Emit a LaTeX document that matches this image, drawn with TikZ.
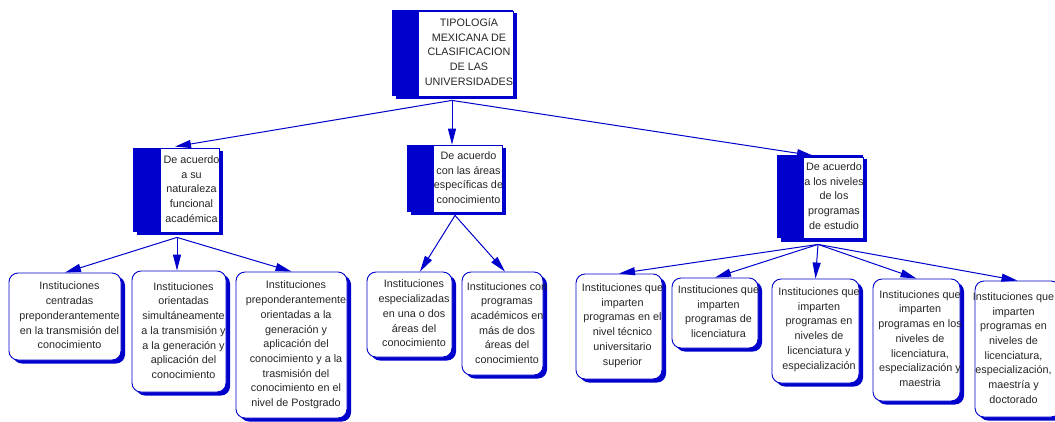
\documentclass[tikz,border=0pt]{standalone}
\usepackage{fontspec}
\setmainfont{Liberation Sans}
\usetikzlibrary{arrows.meta,shadows,calc}
\definecolor{cblue}{RGB}{0,0,204}
\begin{document}
\begin{tikzpicture}[x=1pt,y=-1pt,
  txt/.style={inner sep=0pt, align=center, font=\fontsize{10.8}{14.7}\selectfont, text=black!85},
  leaf/.style={draw=cblue, fill=white, line width=0.9pt, rounded corners=9pt, inner sep=0pt,
    drop shadow={shadow xshift=4pt, shadow yshift=-3.5pt, fill=cblue, opacity=1}},
  wbox/.style={draw=cblue, fill=white, line width=0.8pt, inner sep=0pt},
  blk/.style={fill=cblue},
  conn/.style={draw=cblue, line width=1pt, -{Triangle[length=16pt,width=8pt]}}
]
\useasboundingbox (0,0) rectangle (1055,421);

% ---- top box
\fill[blk] (392,10) rectangle (513,96);
\fill[blk] (396,13) rectangle (517,99);
\node[wbox, minimum width=95, minimum height=85] (T) at (465.5,53.5) {};
\node[txt] (Tt) at ($(T)+(3.5,-1.5)$) {TIPOLOGíA\\MEXICANA DE\\CLASIFICACION\\DE LAS\\UNIVERSIDADES};

% ---- level 2 boxes
\fill[blk] (133,148) rectangle (219,232);
\fill[blk] (137,151) rectangle (223,235);
\node[wbox, minimum width=59, minimum height=84] (A) at (189.5,190) {};
\node[txt] (At) at ($(A)+(2,-1)$) {De acuerdo\\a su\\naturaleza\\funcional\\académica};

\fill[blk] (407,145) rectangle (502,212);
\fill[blk] (411,148) rectangle (506,215);
\node[wbox, minimum width=69, minimum height=67] (B) at (467.5,178.5) {};
\node[txt] (Bt) at ($(B)+(1,-1)$) {De acuerdo\\con las áreas\\específicas de\\conocimiento};

\fill[blk] (777,155) rectangle (863,238);
\fill[blk] (781,159) rectangle (867,242);
\node[wbox, minimum width=60, minimum height=81] (C) at (833,197.5) {};
\node[txt] (Ct) at ($(C)+(1,-1.5)$) {De acuerdo\\a los niveles\\de los\\programas\\de estudio};

% ---- leaves
\node[leaf, minimum width=112, minimum height=87] (l1) at (65,316.5) {};
\node[txt] (l1t) at ($(l1)+(4.5,-1)$) {Instituciones\\centradas\\preponderantemente\\en la transmisión del\\conocimiento};

\node[leaf, minimum width=94, minimum height=121] (l2) at (179,331.5) {};
\node[txt] (l2t) at ($(l2)+(4.5,-1)$) {Instituciones\\orientadas\\simultáneamente\\a la transmisión y\\a la generación y\\aplicación del\\conocimiento};

\node[leaf, minimum width=111, minimum height=146] (l3) at (291.5,345) {};
\node[txt] (l3t) at ($(l3)+(4.5,0)$) {Instituciones\\preponderantemente\\orientadas a la\\generación y\\aplicación del\\conocimiento y a la\\trasmisión del\\conocimiento en el\\nivel de Postgrado};

\node[leaf, minimum width=85, minimum height=85] (l4) at (409.5,314.5) {};
\node[txt] (l4t) at ($(l4)+(4.5,-1)$) {Instituciones\\especializadas\\en una o dos\\áreas del\\conocimiento};

\node[leaf, minimum width=81, minimum height=103] (l5) at (502.5,323.5) {};
\node[txt] (l5t) at ($(l5)+(4.5,-0.5)$) {Instituciones con\\programas\\académicos en\\más de dos\\áreas del\\conocimiento};

\node[leaf, minimum width=86, minimum height=105] (l6) at (619,326.5) {};
\node[txt] (l6t) at ($(l6)+(3.5,-1)$) {Instituciones que\\imparten\\programas en el\\nivel técnico\\universitario\\superior};

\node[leaf, minimum width=86, minimum height=70] (l7) at (715,313) {};
\node[txt] (l7t) at ($(l7)+(3.5,-1.5)$) {Instituciones que\\imparten\\programas de\\licenciatura};

\node[leaf, minimum width=87, minimum height=104] (l8) at (815.5,331) {};
\node[txt] (l8t) at ($(l8)+(3.5,-1.5)$) {Instituciones que\\imparten\\programas en\\niveles de\\licenciatura y\\especialización};

\node[leaf, minimum width=87, minimum height=122] (l9) at (916.5,340) {};
\node[txt] (l9t) at ($(l9)+(3.5,-1.5)$) {Instituciones que\\imparten\\programas en los\\niveles de\\licenciatura,\\especialización y\\maestria};

\node[leaf, minimum width=85, minimum height=136] (l10) at (1017.5,349) {};
\node[txt] (l10t) at ($(l10)+(-4,-1)$) {Instituciones que\\imparten\\programas en\\niveles de\\licenciatura,\\especialización,\\maestría y\\doctorado};

% ---- connectors
\draw[conn] ($(T.south)+(-13.5,4)$) -- ($(A.north)+(-14.5,-1)$);
\draw[conn] ($(T.south)+(-13.5,4)$) -- ($(B.north)+(-15.5,0)$);
\draw[conn] ($(T.south)+(-13.5,4)$) -- ($(C.north)+(-20,-1)$);

\draw[conn] ($(A.south)+(-12.5,5)$) -- (l1.north);
\draw[conn] ($(A.south)+(-12.5,5)$) -- ($(l2.north)+(-2,0)$);
\draw[conn] ($(A.south)+(-12.5,5)$) -- (l3.north);

\draw[conn] ($(B.south)+(-12.5,3)$) -- ($(l4.north)+(10.5,0)$);
\draw[conn] ($(B.south)+(-12.5,3)$) -- ($(l5.north)+(2.5,0)$);

\draw[conn] ($(C.south)+(-15,6)$) -- (l6.north);
\draw[conn] ($(C.south)+(-15,6)$) -- (l7.north);
\draw[conn] ($(C.south)+(-15,6)$) -- (l8.north);
\draw[conn] ($(C.south)+(-15,6)$) -- (l9.north);
\draw[conn] ($(C.south)+(-15,6)$) -- (l10.north);
\end{tikzpicture}
\end{document}
